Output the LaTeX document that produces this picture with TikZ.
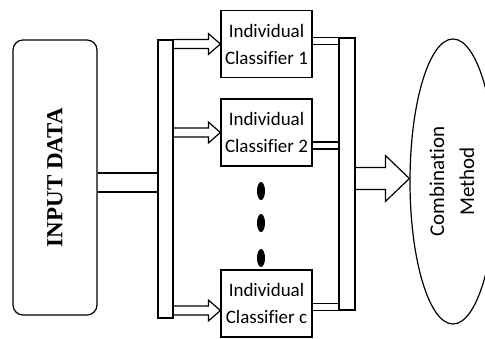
\documentclass[tikz,border=0pt]{standalone}
\usepackage{fontspec}
\usepackage{graphicx}
\setmainfont{Carlito}[Ligatures=NoCommon]
\newfontfamily\inputfont{Liberation Serif}
\usetikzlibrary{calc,shapes.geometric}

% open block arrow: start, tip, shaft half width, head half width, head length
\newcommand{\blockarrow}[5]{%
  \draw ($(#1)+(0,#3)$) -- ($(#2)+(-#5,#3)$) -- ($(#2)+(-#5,#4)$) -- (#2)
        -- ($(#2)+(-#5,-#4)$) -- ($(#2)+(-#5,-#3)$) -- ($(#1)+(0,-#3)$);}
% two parallel lines from a point to the side of a node
\newcommand{\band}[3]{%
  \draw ([yshift=#3]#1) -- ([yshift=#3]#1 -| #2)
        ([yshift=-#3]#1) -- ([yshift=-#3]#1 -| #2);}

\begin{document}
\begin{tikzpicture}[x=1pt,y=1pt,line width=1.2pt,
    classbox/.style={draw,minimum width=91,minimum height=67,inner sep=0,
      align=center,font=\fontsize{19}{27}\selectfont},
    bar/.style={draw,inner sep=0}]
  \useasboundingbox (0,0) rectangle (485,338);

  \node[draw,rounded corners=10,minimum width=84,minimum height=275] (inp) at (55,160.5)
    {\rotatebox{90}{\fontsize{23}{27}\selectfont\inputfont\bfseries INPUT DATA}};
  \node[bar,minimum width=15,minimum height=278] (lbar) at (165.5,159) {};

  \node[classbox] (c1) at (266.5,294) {Individual\\Classifier 1};
  \node[classbox] (c2) at (266.5,205.5) {Individual\\Classifier 2};
  \node[classbox] (cc) at (266.5,34.5) {Individual\\Classifier c};

  \node[bar,minimum width=16,minimum height=272] (rbar) at (347,164) {};
  \node[draw,ellipse,minimum width=86,minimum height=285,inner sep=0] (comb) at (453,156.5)
    {\rotatebox{90}{\fontsize{21}{30}\selectfont
      \begin{tabular}{@{}c@{}}Combination\\Method\end{tabular}}};

  % dots between the classifiers
  \foreach \y in {147,115,80}
    \fill (261,\y) ellipse (4 and 9);

  % input to the left bar
  \coordinate (bin) at ([yshift=-5pt]inp.east);
  \band{bin}{lbar.west}{9.5pt}

  % left bar to classifiers
  \coordinate (t1) at (c1.west);
  \coordinate (t2) at (c2.west);
  \coordinate (tc) at ([yshift=-7pt]cc.west);
  \foreach \t in {t1,t2,tc}{
    \coordinate (s) at (lbar.east |- \t);
    \blockarrow{s}{\t}{4.5}{10.5}{12}
  }

  % classifiers to the right bar
  \coordinate (o1) at ([yshift=-3.7pt]c1.east |- rbar.north);
  \coordinate (o2) at ([yshift=-13pt]c2.east);
  \coordinate (oc) at ([yshift=3.7pt]cc.east |- rbar.south);
  \band{o1}{rbar.west}{3.7pt}
  \band{o2}{rbar.west}{3.5pt}
  \band{oc}{rbar.west}{3.7pt}

  % right bar to combination
  \coordinate (tm) at ([yshift=3pt]comb.west);
  \coordinate (sm) at (rbar.east |- tm);
  \blockarrow{sm}{tm}{11}{23}{24}
\end{tikzpicture}
\end{document}
